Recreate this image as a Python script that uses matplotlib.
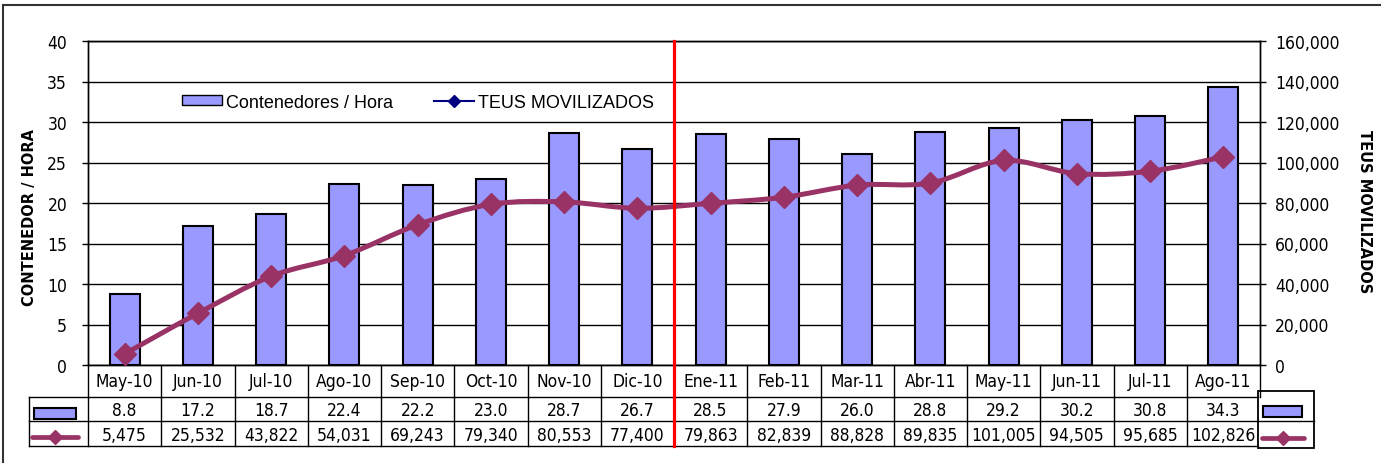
import matplotlib
matplotlib.use('Agg')
import matplotlib.pyplot as plt
import numpy as np
from matplotlib.path import Path
from matplotlib.patches import PathPatch, Rectangle, Patch
from matplotlib.lines import Line2D
from matplotlib import transforms
from matplotlib.font_manager import FontProperties

# ---- data ----
months = ['May-10', 'Jun-10', 'Jul-10', 'Ago-10', 'Sep-10', 'Oct-10', 'Nov-10', 'Dic-10',
          'Ene-11', 'Feb-11', 'Mar-11', 'Abr-11', 'May-11', 'Jun-11', 'Jul-11', 'Ago-11']
cont_hora = [8.8, 17.2, 18.7, 22.4, 22.2, 23.0, 28.7, 26.7,
             28.5, 27.9, 26.0, 28.8, 29.2, 30.2, 30.8, 34.3]
teus = [5475, 25532, 43822, 54031, 69243, 79340, 80553, 77400,
        79863, 82839, 88828, 89835, 101005, 94505, 95685, 102826]
left_ticks = list(range(0, 41, 5))
right_ticks = list(range(0, 160001, 20000))
bar_label = 'Contenedores / Hora'
line_label = 'TEUS MOVILIZADOS'
left_title = 'CONTENEDOR / HORA'
right_title = 'TEUS MOVILIZADOS'
split_pos = 7.5  # between Dic-10 and Ene-11

# ---- styles ----
BAR_C = '#9999FF'
LINE_C = '#993366'
W, H = 1381, 464
TICK_FONT = dict(family='DejaVu Sans', stretch='condensed', size=12.5)

def fx(px):
    return px / W

def fy(py):
    return 1 - py / H

fig = plt.figure(figsize=(W / 100, H / 100), dpi=100)

AX_L, AX_R, AX_T, AX_B = 88, 1260, 42, 366
ax = fig.add_axes([fx(AX_L), fy(AX_B), fx(AX_R) - fx(AX_L), fy(AX_T) - fy(AX_B)])
n = len(months)
x = np.arange(n)
ax.bar(x, cont_hora, width=0.41, color=BAR_C, edgecolor='black', linewidth=1.5, zorder=2)
ax.set_xlim(-0.5, n - 0.5)
ax.set_ylim(0, 40)
ax.set_yticks(left_ticks)
ax.yaxis.grid(True, color='black', linewidth=1)
ax.set_axisbelow(True)
ax.set_xticks([])
for s in ax.spines.values():
    s.set_linewidth(1)
    s.set_color('black')
ax.tick_params(axis='y', direction='out', length=4, width=1, pad=11)
for lab in ax.get_yticklabels():
    lab.set_fontproperties(FontProperties(**TICK_FONT))

ax2 = ax.twinx()
ax2.set_ylim(0, 160000)
ax2.set_yticks(right_ticks)
ax2.set_yticklabels([f'{v:,}' for v in right_ticks])
ax2.tick_params(axis='y', direction='out', length=4, width=1, pad=7)
for lab in ax2.get_yticklabels():
    lab.set_fontproperties(FontProperties(**TICK_FONT))
for s in ax2.spines.values():
    s.set_linewidth(1)
    s.set_color('black')

# smoothed line (cubic Bezier through the data points)
pts = np.column_stack([x, np.array(teus, dtype=float)])
verts = [pts[0]]
codes = [Path.MOVETO]
for i in range(n - 1):
    p0 = pts[i - 1] if i > 0 else pts[i]
    p1 = pts[i]
    p2 = pts[i + 1]
    p3 = pts[i + 2] if i + 2 < n else pts[i + 1]
    c1 = p1 + (p2 - p0) / 6.0
    c2 = p2 - (p3 - p1) / 6.0
    verts += [c1, c2, p2]
    codes += [Path.CURVE4] * 3
ax2.add_patch(PathPatch(Path(verts, codes), fill=False, edgecolor=LINE_C, linewidth=3.6,
                        capstyle='round', joinstyle='round', zorder=3))
ax2.plot(x, teus, ls='none', marker='D', ms=11.5, color=LINE_C, zorder=4)

# ---- table ----
T_TOP, T_R1, T_R2, T_BOT = 366, 398, 422, 447
tax = fig.add_axes([fx(AX_L), fy(T_BOT), fx(AX_R) - fx(AX_L), fy(T_TOP) - fy(T_BOT)])
tax.set_xlim(-0.5, n - 0.5)
tax.set_ylim(T_BOT, T_TOP)
tax.axis('off')
cat_px = (AX_R - AX_L) / n

def dx(px):
    return -0.5 + (px - AX_L) / cat_px

lkw = dict(color='black', linewidth=1, clip_on=False)
for k in range(n + 1):
    tax.plot([k - 0.5, k - 0.5], [T_TOP, T_R1], **lkw)
for k in range(n):
    tax.plot([k - 0.5, k - 0.5], [T_R1, T_BOT], **lkw)
tax.plot([dx(29), dx(29)], [T_R1, T_BOT], **lkw)
for yy in (T_R1, T_R2, T_BOT):
    tax.plot([dx(29), dx(1258)], [yy, yy], **lkw)
for i in range(n):
    tax.text(i, 382, months[i], ha='center', va='center', fontproperties=FontProperties(**TICK_FONT))
    tax.text(i, 411, f'{cont_hora[i]:.1f}', ha='center', va='center', fontproperties=FontProperties(**TICK_FONT))
    tax.text(i, 436, f'{teus[i]:,}', ha='center', va='center', fontproperties=FontProperties(**TICK_FONT))

# left keys
tax.add_patch(Rectangle((dx(34), 420), dx(76) - dx(34), -11.5, facecolor=BAR_C,
                        edgecolor='black', linewidth=1.5, clip_on=False))
tax.plot([dx(32), dx(78)], [437.5, 437.5], color=LINE_C, lw=3.4, solid_capstyle='round', clip_on=False)
tax.plot([dx(55)], [437.5], marker='D', ms=7.5, color=LINE_C, clip_on=False)

# right key box
tax.add_patch(Rectangle((dx(1258), 449), dx(1314) - dx(1258), -57, facecolor='none',
                        edgecolor='black', linewidth=1.3, clip_on=False))
tax.plot([dx(1258), dx(1314)], [T_R2, T_R2], **lkw)
tax.add_patch(Rectangle((dx(1263), 417.5), dx(1302) - dx(1263), -10.5, facecolor=BAR_C,
                        edgecolor='black', linewidth=1.5, clip_on=False))
tax.plot([dx(1262), dx(1304)], [438.5, 438.5], color=LINE_C, lw=3.4, solid_capstyle='round', clip_on=False)
tax.plot([dx(1283)], [438.5], marker='D', ms=7.5, color=LINE_C, clip_on=False)

# red separator line
btr = transforms.blended_transform_factory(ax.transData, fig.transFigure)
fig.add_artist(Line2D([split_pos, split_pos], [fy(AX_T), fy(T_BOT)], transform=btr,
                      color='#FF0000', linewidth=2.3, zorder=10))

# axis titles
fig.text(fx(30), fy(218), left_title, rotation=90, ha='center', va='center',
         fontsize=10.5, fontweight='bold', family='DejaVu Sans')
fig.text(fx(1364), fy(212), right_title, rotation=-90, ha='center', va='center',
         fontsize=10.5, fontweight='bold', family='DejaVu Sans')

# legend
handles = [Patch(facecolor=BAR_C, edgecolor='black', linewidth=1),
           Line2D([], [], color='#000080', lw=1.5, marker='D', ms=6)]
fig.legend(handles, [bar_label, line_label], loc='center left',
           bbox_to_anchor=(fx(182), fy(103)), ncol=2, frameon=False,
           prop=FontProperties(family='Liberation Sans', size=13),
           handlelength=2.2, handletextpad=0.22, columnspacing=2.3,
           borderpad=0, borderaxespad=0, handleheight=0.45)

# outer border (left and top visible)
fig.add_artist(Line2D([fx(2.5), fx(2.5)], [fy(6), 0], color='#333333', lw=1.5))
fig.add_artist(Line2D([fx(2.5), 1], [fy(6), fy(6)], color='#333333', lw=1.5))

fig.savefig('out.png', dpi=100)
